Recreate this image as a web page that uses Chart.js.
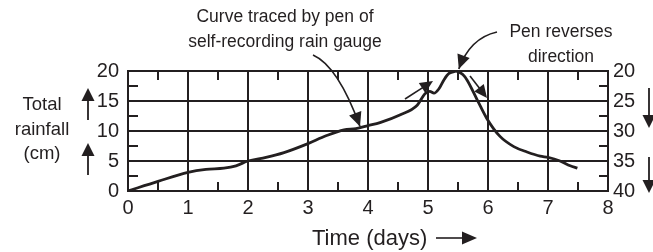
<!DOCTYPE html>
<html>
<head>
<meta charset="utf-8">
<script src="https://cdn.jsdelivr.net/npm/chart.js@4.4.1/dist/chart.umd.min.js"></script>
<style>
  body { margin: 0; background: #fff; }
  canvas { display: block; }
</style>
</head>
<body>
<canvas id="gauge" width="653" height="252"></canvas>
<script>
// rising part of the trace, read on the left scale (cm)
const riseDays = [0, 0.5, 1, 1.3, 1.6, 1.8, 2, 2.3, 2.6, 3, 3.3, 3.6, 3.8, 4, 4.2, 4.54, 4.82, 4.95, 5.03, 5.1, 5.18, 5.27, 5.35, 5.48];
const riseRain = [0, 1.6, 3.1, 3.6, 3.8, 4.2, 5, 5.6, 6.4, 7.9, 9.2, 10.2, 10.4, 10.9, 11.4, 12.7, 14.3, 16.2, 16.6, 16.3, 17.0, 18.6, 19.6, 20];

// after the pen reverses, read on the right scale (cm)
const fallDays = [5.48, 5.58, 5.65, 5.82, 5.98, 6.2, 6.43, 6.65, 6.87, 7, 7.2, 7.37, 7.49];
const fallRain = [20, 20.6, 21.5, 24.8, 27.9, 30.9, 32.6, 33.5, 34.2, 34.4, 35, 35.8, 36.2];

const dayTicks = [0, 1, 2, 3, 4, 5, 6, 7, 8];
const leftTicks = [0, 5, 10, 15, 20];
const rightTicks = [20, 25, 30, 35, 40];

const INK = "#231f20";
const FONT = '"Liberation Sans", Arial, sans-serif';

function toPoints(xs, ys) {
  return xs.map((x, i) => ({ x: x, y: ys[i] }));
}

function arrowHead(ctx, tipX, tipY, fromX, fromY, len, half) {
  const a = Math.atan2(tipY - fromY, tipX - fromX);
  ctx.beginPath();
  ctx.moveTo(tipX, tipY);
  ctx.lineTo(tipX - len * Math.cos(a) + half * Math.sin(a), tipY - len * Math.sin(a) - half * Math.cos(a));
  ctx.lineTo(tipX - len * Math.cos(a) - half * Math.sin(a), tipY - len * Math.sin(a) + half * Math.cos(a));
  ctx.closePath();
  ctx.fill();
}

function straightArrow(ctx, x1, y1, x2, y2, len, half, w) {
  const a = Math.atan2(y2 - y1, x2 - x1);
  ctx.lineWidth = w;
  ctx.beginPath();
  ctx.moveTo(x1, y1);
  ctx.lineTo(x2 - len * 0.8 * Math.cos(a), y2 - len * 0.8 * Math.sin(a));
  ctx.stroke();
  arrowHead(ctx, x2, y2, x1, y1, len, half);
}

function curvedArrow(ctx, x1, y1, cx, cy, x2, y2, len, half) {
  ctx.lineWidth = 1.6;
  ctx.beginPath();
  ctx.moveTo(x1, y1);
  ctx.quadraticCurveTo(cx, cy, x2, y2);
  ctx.stroke();
  arrowHead(ctx, x2, y2, cx, cy, len, half);
}

// half-step ticks, labels and arrows
const extras = {
  id: "extras",
  afterDraw(chart) {
    const ctx = chart.ctx;
    const xs = chart.scales.x;
    const ys = chart.scales.y;
    const area = chart.chartArea;
    ctx.save();
    ctx.strokeStyle = INK;
    ctx.fillStyle = INK;
    ctx.lineWidth = 2;

    ctx.beginPath();
    for (let d = 0.5; d < 8; d += 1) {
      const px = Math.round(xs.getPixelForValue(d));
      ctx.moveTo(px, area.top);
      ctx.lineTo(px, area.top + 9);
      ctx.moveTo(px, area.bottom);
      ctx.lineTo(px, area.bottom - 9);
    }
    for (let v = 2.5; v < 20; v += 5) {
      const py = Math.round(ys.getPixelForValue(v));
      ctx.moveTo(area.left, py);
      ctx.lineTo(area.left + 10, py);
      ctx.moveTo(area.right, py);
      ctx.lineTo(area.right - 9, py);
    }
    ctx.stroke();

    ctx.font = "17.5px " + FONT;
    ctx.textAlign = "center";
    ctx.textBaseline = "alphabetic";
    ctx.fillText("Curve traced by pen of", 285, 22);
    ctx.fillText("self-recording rain gauge", 285, 47);
    ctx.fillText("Pen reverses", 561, 37);
    ctx.fillText("direction", 561, 62);

    ctx.font = "18.5px " + FONT;
    ctx.fillText("Total", 42, 110);
    ctx.fillText("rainfall", 42, 135);
    ctx.fillText("(cm)", 42, 159);

    ctx.font = "22px " + FONT;
    ctx.textAlign = "left";
    ctx.fillText("Time (days)", 312, 245);

    // pointers onto the trace
    const tip1x = xs.getPixelForValue(3.9), tip1y = ys.getPixelForValue(10.6);
    curvedArrow(ctx, 313, 55, 338, 66, tip1x - 2, tip1y - 1, 14, 6.5);
    const tip2x = xs.getPixelForValue(5.48), tip2y = ys.getPixelForValue(20);
    curvedArrow(ctx, 497, 32, 470, 38, tip2x + 2, tip2y - 2, 14, 6.5);

    straightArrow(ctx, 405, 99, 433, 81, 13, 6, 1.6);
    straightArrow(ctx, 470, 76, 487, 98, 13, 6, 1.6);

    // direction arrows beside the scales
    straightArrow(ctx, 88, 120, 88, 88, 13, 6.5, 1.8);
    straightArrow(ctx, 88, 175, 88, 143, 13, 6.5, 1.8);
    straightArrow(ctx, 649, 88, 649, 128, 13, 6.5, 1.8);
    straightArrow(ctx, 649, 157, 649, 193, 13, 6.5, 1.8);
    straightArrow(ctx, 436, 238, 477, 238, 15, 6.5, 1.6);

    ctx.restore();
  },
};

const ctx = document.getElementById("gauge").getContext("2d");

new Chart(ctx, {
  type: "line",
  data: {
    datasets: [
      {
        label: "Rising",
        data: toPoints(riseDays, riseRain),
        yAxisID: "y",
        borderColor: INK,
        borderWidth: 2.8,
        pointRadius: 0,
        cubicInterpolationMode: "monotone",
      },
      {
        label: "Reversed",
        data: toPoints(fallDays, fallRain),
        yAxisID: "y1",
        borderColor: INK,
        borderWidth: 2.8,
        pointRadius: 0,
        cubicInterpolationMode: "monotone",
      },
    ],
  },
  options: {
    responsive: false,
    animation: false,
    layout: {
      padding: { left: 78, right: 0, top: 71, bottom: 31 },
    },
    plugins: {
      legend: { display: false },
      tooltip: { enabled: false },
    },
    scales: {
      x: {
        type: "linear",
        min: 0,
        max: 8,
        afterBuildTicks: (s) => { s.ticks = dayTicks.map((v) => ({ value: v })); },
        afterFit: (s) => { s.height = 30; },
        ticks: { color: INK, font: { size: 20, family: FONT }, padding: 5, maxRotation: 0 },
        grid: { color: INK, lineWidth: 2, drawTicks: false },
        border: { color: INK, width: 2 },
      },
      y: {
        position: "left",
        min: 0,
        max: 20,
        afterBuildTicks: (s) => { s.ticks = leftTicks.map((v) => ({ value: v })); },
        afterFit: (s) => { s.width = 50; },
        ticks: { color: INK, font: { size: 20, family: FONT }, padding: 9 },
        grid: { color: INK, lineWidth: 2, drawTicks: false },
        border: { color: INK, width: 2 },
      },
      y1: {
        position: "right",
        reverse: true,
        min: 20,
        max: 40,
        afterBuildTicks: (s) => { s.ticks = rightTicks.map((v) => ({ value: v })); },
        afterFit: (s) => { s.width = 45; },
        ticks: { color: INK, font: { size: 20, family: FONT }, padding: 5 },
        grid: { display: false, drawTicks: false },
        border: { color: INK, width: 2 },
      },
    },
  },
  plugins: [extras],
});
</script>
</body>
</html>
